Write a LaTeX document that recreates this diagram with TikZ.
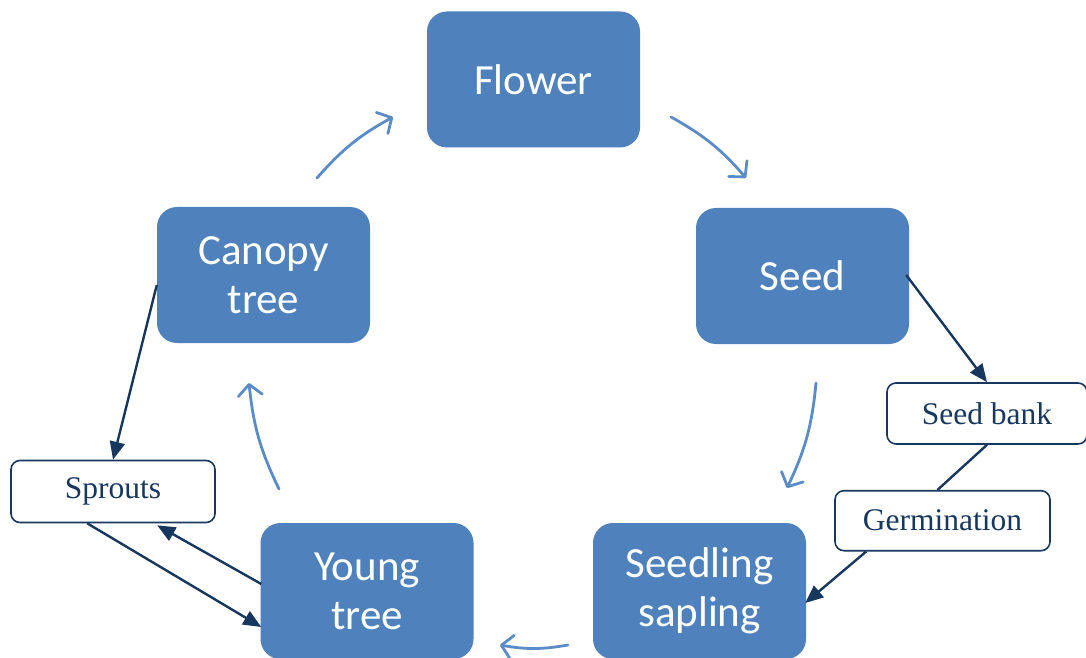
\documentclass[tikz,border=0pt]{standalone}
\usepackage{fontspec}
\setmainfont{Liberation Serif}
\newfontfamily\calfont{Carlito}
\usetikzlibrary{arrows.meta,calc}
\definecolor{boxblue}{HTML}{4F81BD}
\definecolor{arcblue}{HTML}{5B8CC8}
\definecolor{navy}{RGB}{23,55,94}
\begin{document}
\begin{tikzpicture}[x=1pt,y=1pt,
  stage/.style={rectangle, rounded corners=20pt, fill=boxblue, text=white,
    minimum width=213pt, minimum height=136pt, inner sep=0pt,
    font=\calfont\fontsize{43}{49}\selectfont, align=center},
  note/.style={rectangle, rounded corners=9pt, draw=navy, line width=1.6pt,
    fill=white, text=navy, inner sep=0pt, font=\fontsize{31.5}{36}\selectfont},
  cyc/.style={draw=arcblue, line width=2.8pt, line cap=round,
    -{Straight Barb[length=11pt,width=24pt,round]}, bend left=10},
  link/.style={draw=navy, line width=2.4pt, -{Triangle[length=18pt,width=15pt]}},
  plainlink/.style={draw=navy, line width=2.4pt}]
\useasboundingbox (0,0) rectangle (1086,657);
\clip (0,0) rectangle (1086,657);
\fill[white] (0,0) rectangle (1086,657);

% stages
\node[stage] (flower) at (533.5,577.5) {Flower};
\node[stage] (seed) at (802.5,381) {Seed};
\node[stage] (canopy) at (263.5,382) {Canopy\\tree};
\node[stage] (young) at (367,66) {Young\\tree};
\node[stage] (seedling) at (699.5,66) {Seedling\\sapling};

% notes
\node[note, minimum width=200pt, minimum height=61pt] (seedbank) at (987,243.5) {Seed bank};
\node[note, minimum width=215pt, minimum height=60pt] (germ) at (942.5,136.3) {Germination};
\node[note, minimum width=204pt, minimum height=62pt] (sprouts) at (113,165.5) {Sprouts};

% cycle arcs
\coordinate (a1s) at (317,479); \coordinate (a1e) at (393,540);
\coordinate (a2s) at (671,540); \coordinate (a2e) at (746,479);
\coordinate (a3s) at (816,274); \coordinate (a3e) at (787,169);
\coordinate (a4s) at (568,12);  \coordinate (a4e) at (500,12);
\coordinate (a5s) at (279,168); \coordinate (a5e) at (249,274);
\draw[cyc] (a1s) to (a1e);
\draw[cyc] (a2s) to (a2e);
\draw[cyc] (a3s) to (a3e);
\draw[cyc] (a4s) to (a4e);
\draw[cyc] (a5s) to (a5e);

% links
\draw[link] ($(seed.east)+(-3,1)$) -- (seedbank.north);
\draw[plainlink] (seedbank.south) -- ($(germ.north)+(-5,0)$);
\draw[link] ($(germ.south west)+(32,0)$) -- ($(seedling.east)+(-1,-12)$);
\draw[link] ($(canopy.west)+(0,-10)$) -- (sprouts.north);
\draw[link] ($(sprouts.south west)+(77,0)$) -- ($(young.west)+(1,-36)$);
\draw[link] ($(young.west)+(1,7)$) -- ($(sprouts.south west)+(147,-2)$);
\end{tikzpicture}
\end{document}
